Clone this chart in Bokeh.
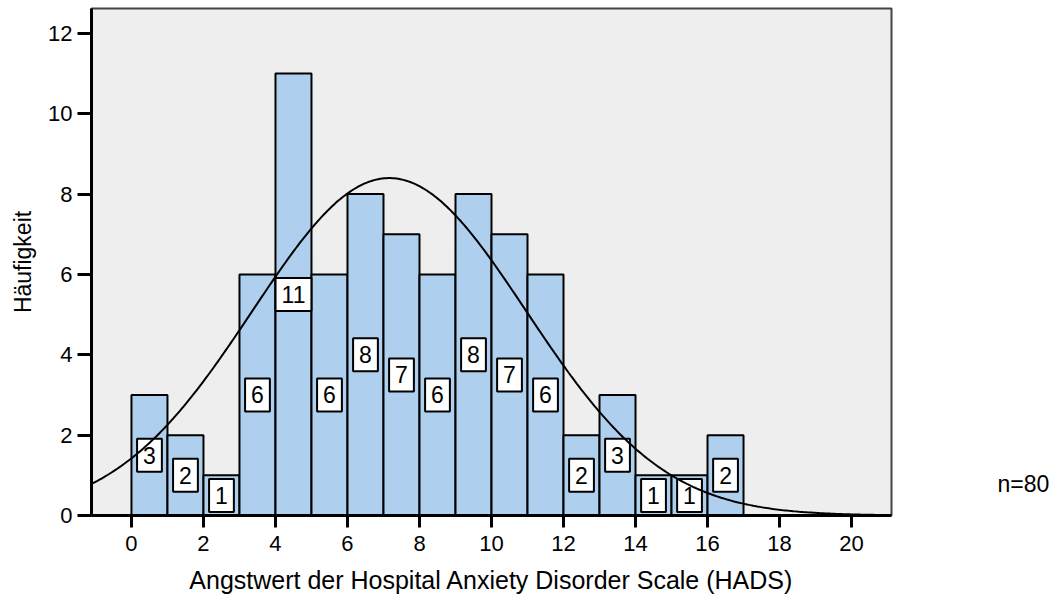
import numpy as np
from bokeh.plotting import figure
from bokeh.layouts import row
from bokeh.models import Range1d, FixedTicker
from bokeh.core.properties import value
from bokeh.embed import file_html
from bokeh.resources import INLINE

# HADS anxiety score histogram: one bin per integer score
bin_left = list(range(0, 17))
counts = [3, 2, 1, 6, 11, 6, 8, 7, 6, 8, 7, 6, 2, 3, 1, 1, 2]
x_ticks = [0, 2, 4, 6, 8, 10, 12, 14, 16, 18, 20]
y_ticks = [0, 2, 4, 6, 8, 10, 12]

# parameters of the fitted normal curve
curve_mean = 7.16
curve_sd = 3.80
bin_width = 1

n_total = sum(counts)
FONT = "Liberation Sans"

x_lo, x_hi = -1.11, 21.11
y_lo, y_hi = 0, 12.62

MAIN_W, SIDE_W, H = 960, 99, 598
TOP, BOTTOM = 8, 83
FRAME_H = H - TOP - BOTTOM

p = figure(
    width=MAIN_W, height=H,
    x_range=Range1d(x_lo, x_hi), y_range=Range1d(y_lo, y_hi),
    output_backend="svg", toolbar_location=None,
    min_border_left=91, min_border_right=MAIN_W - 891,
    min_border_top=TOP, min_border_bottom=BOTTOM,
    background_fill_color="#EEEEEE",
    border_fill_color="white",
)
p.outline_line_color = "#444444"
p.outline_line_width = 2

# bars
bin_right = [b + bin_width for b in bin_left]
p.quad(left=bin_left, right=bin_right, bottom=0, top=counts,
       fill_color="#AED0EE", line_color="black", line_width=2)

# count labels in the middle of each bar
centers = [b + bin_width / 2 for b in bin_left]
mids = [c / 2 for c in counts]
p.text(x=centers, y=mids, text=[str(c) for c in counts],
       text_align="center", text_baseline="middle",
       text_font=value(FONT), text_font_size="23px", text_color="black",
       background_fill_color="white", border_line_color="black",
       border_line_width=2,
       padding=dict(left=6, right=6, top=8, bottom=8))

# normal curve scaled to counts
xs = np.linspace(x_lo, x_hi, 400)
ys = n_total * bin_width * np.exp(-0.5 * ((xs - curve_mean) / curve_sd) ** 2) / (curve_sd * np.sqrt(2 * np.pi))
p.line(xs, ys, line_color="black", line_width=2)

# axes
for ax in (p.xaxis[0], p.yaxis[0]):
    ax.axis_line_width = 3
    ax.axis_line_color = "black"
    ax.major_tick_line_width = 3
    ax.major_tick_line_color = "black"
    ax.major_tick_in = 0
    ax.minor_tick_line_color = None
    ax.major_label_text_font = FONT
    ax.major_label_text_font_size = "22px"
    ax.major_label_text_color = "black"
    ax.axis_label_text_font = FONT
    ax.axis_label_text_font_style = "normal"
    ax.axis_label_text_color = "black"

p.xaxis.ticker = FixedTicker(ticks=x_ticks)
p.yaxis.ticker = FixedTicker(ticks=y_ticks)
p.xaxis.major_tick_out = 12
p.yaxis.major_tick_out = 14
p.xaxis.major_label_standoff = 8
p.yaxis.major_label_standoff = 5
p.xaxis.axis_label = "Angstwert der Hospital Anxiety Disorder Scale (HADS)"
p.yaxis.axis_label = "Häufigkeit"
p.xaxis.axis_label_text_font_size = "25px"
p.yaxis.axis_label_text_font_size = "23px"
p.xaxis.axis_label_standoff = 12
p.yaxis.axis_label_standoff = 9

p.xgrid.visible = False
p.ygrid.visible = False

# side strip holding the sample size note (pixel coordinates of its frame)
side = figure(
    width=SIDE_W, height=H,
    x_range=Range1d(0, SIDE_W), y_range=Range1d(0, FRAME_H),
    output_backend="svg", toolbar_location=None,
    x_axis_location=None, y_axis_location=None,
    min_border_left=0, min_border_right=0,
    min_border_top=TOP, min_border_bottom=BOTTOM,
    outline_line_color=None,
    background_fill_color="white", border_fill_color="white",
)
side.xgrid.visible = False
side.ygrid.visible = False
side.text(x=[37], y=[32], text=[f"n={n_total}"],
          text_align="left", text_baseline="middle",
          text_font=value(FONT), text_font_size="23px", text_color="black")

page = row(p, side, spacing=0)
open("out.html", "w").write(file_html(page, INLINE))
